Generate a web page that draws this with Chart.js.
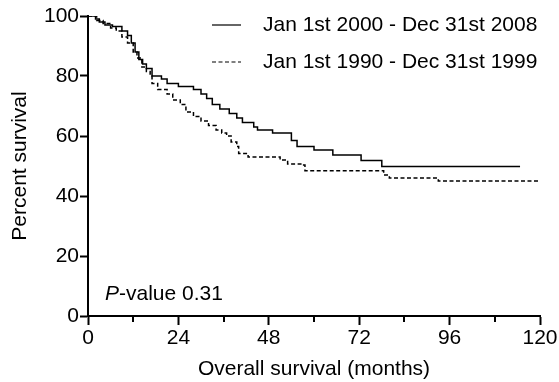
<!DOCTYPE html>
<html>
<head>
<meta charset="utf-8">
<script src="https://cdn.jsdelivr.net/npm/chart.js@4/dist/chart.umd.min.js"></script>
<style>
  html, body { margin: 0; padding: 0; background: #fff; }
  #wrap { width: 559px; height: 382px; }
</style>
</head>
<body>
<div id="wrap"><canvas id="chartCanvas" width="559" height="382"></canvas></div>
<script>
// --- data (Kaplan-Meier steps: month, % surviving after the step) ---
const label2000 = "Jan 1st 2000 - Dec 31st 2008";
const months2000 = [0, 2, 3, 4.5, 6.5, 9, 10.5, 11.5, 12.5, 13.5, 14.5, 15.5, 17, 19.5, 21, 24, 28, 30, 31.5, 33, 35, 37.5, 39.5, 41, 44, 45, 49, 54, 55.5, 60, 65, 72.5, 78, 114.7];
const surv2000 = [100, 99, 98, 97, 96.5, 95, 93.5, 91, 88, 85.5, 84, 82.5, 80, 79, 77.5, 76.5, 75.5, 74, 72.5, 70.5, 69, 67.5, 66, 64.5, 63, 62, 61, 58.5, 56.5, 55.3, 53.7, 51.8, 49.8, 49.8];

const label1990 = "Jan 1st 1990 - Dec 31st 1999";
const months1990 = [0, 2.3, 4, 6, 7.5, 9, 10.5, 12, 13, 14.3, 15.5, 16.5, 17, 18.5, 21, 22.5, 24.5, 26, 28, 30, 32, 34, 35.5, 36.8, 38, 39.5, 40, 42.5, 51, 53, 56.5, 57.6, 78.5, 80, 93, 120];
const surv1990 = [100, 98.5, 97.5, 96, 95, 93, 91, 88, 86, 83, 81.5, 80, 77.5, 75.5, 74, 72, 70.5, 68, 66.5, 65, 63.5, 62, 61, 60, 58, 56.5, 54.2, 53, 52, 50.7, 50.3, 48.4, 47, 46, 45, 45];

const xTicks = [0, 24, 48, 72, 96, 120];
const xMinorTicks = [12, 36, 60, 84, 108];
const yTicks = [0, 20, 40, 60, 80, 100];
const pValueText = "0.31";

const FONT = "'Liberation Sans', Arial, Helvetica, sans-serif";
const SIZE = 21;

const toPoints = (xs, ys) => xs.map((x, i) => ({ x, y: ys[i] }));

// legend drawn in the top-right of the plot, the P-value note, and short minor x ticks
const notesPlugin = {
  id: "notes",
  afterDraw(chart) {
    const ctx = chart.ctx;
    const area = chart.chartArea;
    const xs = chart.scales.x;
    ctx.save();
    ctx.fillStyle = "#000";
    ctx.strokeStyle = "#000";

    // minor ticks
    ctx.lineWidth = 2;
    xMinorTicks.forEach(v => {
      const px = Math.round(xs.getPixelForValue(v));
      ctx.beginPath();
      ctx.moveTo(px, area.bottom);
      ctx.lineTo(px, area.bottom + 6);
      ctx.stroke();
    });

    ctx.font = `${SIZE}px ${FONT}`;
    ctx.textBaseline = "middle";
    const rows = [25, 62];
    chart.data.datasets.forEach((ds, i) => {
      const y = rows[i];
      ctx.lineWidth = 1.2;
      ctx.setLineDash(ds.borderDash || []);
      ctx.beginPath();
      ctx.moveTo(212, y);
      ctx.lineTo(241, y);
      ctx.stroke();
      ctx.setLineDash([]);
      ctx.textAlign = "left";
      ctx.fillText(ds.label, 263, y);
    });
    // P-value
    const py = 294;
    let px = area.left + 17;
    ctx.font = `italic ${SIZE}px ${FONT}`;
    ctx.fillText("P", px, py);
    px += ctx.measureText("P").width;
    ctx.font = `${SIZE}px ${FONT}`;
    ctx.fillText("-value " + pValueText, px, py);
    ctx.restore();
  }
};

new Chart(document.getElementById("chartCanvas"), {
  type: "line",
  data: {
    datasets: [
      {
        label: label2000,
        data: toPoints(months2000, surv2000),
        borderColor: "#000",
        borderWidth: 1.5,
        stepped: "before",
        pointRadius: 0,
        fill: false
      },
      {
        label: label1990,
        data: toPoints(months1990, surv1990),
        borderColor: "#000",
        borderWidth: 1.5,
        borderDash: [4, 2.5],
        stepped: "before",
        pointRadius: 0,
        fill: false
      }
    ]
  },
  options: {
    responsive: false,
    animation: false,
    layout: { padding: { top: 16, right: 19, left: 0, bottom: 0 } },
    plugins: {
      legend: { display: false },
      tooltip: { enabled: false }
    },
    scales: {
      x: {
        type: "linear",
        min: 0,
        max: 120,
        afterFit: s => { s.height = 66; },
        afterBuildTicks: s => { s.ticks = xTicks.map(v => ({ value: v })); },
        ticks: {
          autoSkip: false,
          maxRotation: 0,
          padding: 1,
          color: "#000",
          font: { family: FONT, size: SIZE }
        },
        grid: {
          drawOnChartArea: false,
          drawTicks: true,
          tickLength: 9,
          tickWidth: 2,
          tickColor: "#000"
        },
        border: { display: true, color: "#000", width: 2 },
        title: {
          display: true,
          text: "Overall survival (months)",
          color: "#000",
          font: { family: FONT, size: SIZE },
          padding: { top: 2, bottom: 0 }
        }
      },
      y: {
        type: "linear",
        min: 0,
        max: 100,
        afterFit: s => { s.width = 88; },
        afterBuildTicks: s => { s.ticks = yTicks.map(v => ({ value: v })); },
        ticks: {
          padding: 1,
          color: "#000",
          font: { family: FONT, size: SIZE }
        },
        grid: {
          drawOnChartArea: false,
          drawTicks: true,
          tickLength: 8,
          tickWidth: 2,
          tickColor: "#000"
        },
        border: { display: true, color: "#000", width: 2 },
        title: {
          display: true,
          text: "Percent survival",
          color: "#000",
          font: { family: FONT, size: SIZE },
          padding: { top: 8, bottom: 4 }
        }
      }
    }
  },
  plugins: [notesPlugin]
});
</script>
</body>
</html>
